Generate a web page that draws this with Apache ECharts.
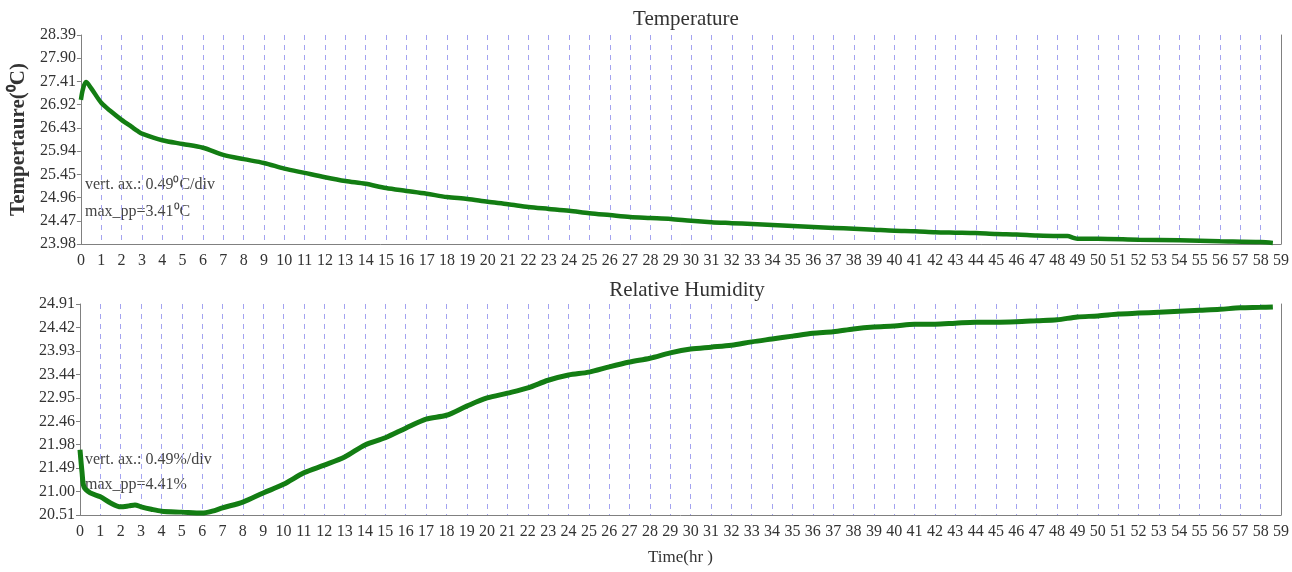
<!DOCTYPE html>
<html>
<head>
<meta charset="utf-8">
<script src="https://cdn.jsdelivr.net/npm/echarts@6/dist/echarts.min.js"></script>
<style>
  html, body { margin: 0; padding: 0; background: #fff; }
  #chart { width: 1292px; height: 572px; }
</style>
</head>
<body>
<div id="chart"></div>
<script>
// temperature (deg C) vs time (hr)
const tempTime = [0, 0.1, 0.25, 0.5, 1, 1.5, 2, 2.5, 2.8, 3, 4, 5, 6, 7, 8, 9, 10,
  11, 12, 13, 14, 15, 16, 17, 18, 19, 20, 21, 22, 23, 24, 25, 26, 27, 28, 29, 30,
  31, 32, 33, 34, 35, 36, 37, 38, 39, 40, 41, 42, 43, 44, 45, 46, 47, 48, 48.5,
  48.8, 49, 50, 52, 54, 56, 58, 58.6]
const tempVals = [27.02, 27.25, 27.40, 27.27, 26.96, 26.77, 26.60, 26.45, 26.36, 26.31, 26.17, 26.09, 26.01, 25.86, 25.77, 25.69, 25.57,
  25.48, 25.39, 25.31, 25.25, 25.16, 25.10, 25.04, 24.97, 24.93, 24.87, 24.82, 24.76, 24.72, 24.68, 24.63, 24.59, 24.55, 24.53, 24.51, 24.47,
  24.44, 24.42, 24.40, 24.38, 24.36, 24.34, 24.32, 24.30, 24.28, 24.26, 24.25, 24.23, 24.22, 24.21, 24.19, 24.18, 24.16, 24.15, 24.15,
  24.11, 24.09, 24.09, 24.07, 24.06, 24.04, 24.02, 24.00]

// relative humidity (%) vs time (hr)
const humTime = [0, 0.1, 0.2, 0.5, 1, 1.5, 2, 2.4, 2.7, 3, 3.5, 4, 5, 6, 6.5, 7, 8, 9, 10,
  11, 12, 13, 14, 15, 16, 17, 18, 19, 20, 21, 22, 23, 24, 25, 26, 27, 28, 29, 30,
  31, 32, 33, 34, 35, 36, 37, 38, 39, 40, 41, 42, 43, 44, 45, 46, 47, 48, 49, 50,
  51, 52, 53, 54, 55, 56, 57, 58, 58.6]
const humVals = [21.87, 21.40, 21.09, 20.97, 20.89, 20.76, 20.68, 20.70, 20.72, 20.68, 20.63, 20.59, 20.57, 20.55, 20.59, 20.66, 20.78, 20.97, 21.15,
  21.39, 21.55, 21.72, 21.97, 22.12, 22.32, 22.51, 22.59, 22.78, 22.95, 23.05, 23.16, 23.32, 23.43, 23.49, 23.60, 23.70, 23.78, 23.89, 23.97,
  24.01, 24.05, 24.12, 24.18, 24.24, 24.30, 24.33, 24.39, 24.43, 24.45, 24.49, 24.49, 24.51, 24.53, 24.53, 24.54, 24.56, 24.58, 24.64, 24.66,
  24.70, 24.72, 24.74, 24.76, 24.78, 24.80, 24.83, 24.84, 24.85]

const tempTicks = [23.98, 24.47, 24.96, 25.45, 25.94, 26.43, 26.92, 27.41, 27.90, 28.39]
const humTicks = [20.51, 21.00, 21.49, 21.98, 22.46, 22.95, 23.44, 23.93, 24.42, 24.91]

const FONT = 'Liberation Serif'
const lineColor = '#137d13'
const gridLine = { color: '#a3a3f0', type: [5, 5], width: 1 }
const axisGray = { color: '#808080', width: 1 }

function zip(xs, ys) {
  return xs.map((x, i) => [x, ys[i]])
}

function xAxisCfg(idx, withName) {
  return {
    gridIndex: idx,
    type: 'value',
    min: 0,
    max: 59,
    interval: 1,
    axisLine: { show: true, onZero: false, lineStyle: axisGray },
    axisTick: { show: false },
    axisLabel: { fontFamily: FONT, fontSize: 16, color: '#333', margin: 9, showMinLabel: true, showMaxLabel: true },
    splitLine: { show: true, lineStyle: gridLine },
    name: withName ? 'Time(hr )' : '',
    nameLocation: 'middle',
    nameGap: 34,
    nameTextStyle: { fontFamily: FONT, fontSize: 17, color: '#333' }
  }
}

function yAxisCfg(idx, min, max, ticks, name) {
  return {
    gridIndex: idx,
    type: 'value',
    min: min,
    max: max,
    axisLine: { show: true, lineStyle: axisGray },
    axisTick: { show: true, customValues: ticks, length: 4, lineStyle: axisGray },
    axisLabel: {
      customValues: ticks,
      formatter: v => v.toFixed(2),
      fontFamily: FONT, fontSize: 16, color: '#333', margin: 5
    },
    splitLine: { show: false },
    name: name,
    nameLocation: 'middle',
    nameRotate: 90,
    nameGap: 42,
    nameTextStyle: { fontFamily: FONT, fontSize: 21, fontWeight: 'bold', color: '#333' }
  }
}

function rightEdge(idx, min, max) {
  return {
    gridIndex: idx, type: 'value', position: 'right', min: min, max: max,
    axisLine: { show: true, lineStyle: axisGray },
    axisTick: { show: false }, axisLabel: { show: false }, splitLine: { show: false }
  }
}

const chart = echarts.init(document.getElementById('chart'))
chart.setOption({
  backgroundColor: '#fff',
  animation: false,
  title: [
    { text: 'Temperature', left: 681, top: 4, textAlign: 'center',
      textStyle: { fontFamily: FONT, fontSize: 21, fontWeight: 'normal', color: '#333' } },
    { text: 'Relative Humidity', left: 682, top: 275, textAlign: 'center',
      textStyle: { fontFamily: FONT, fontSize: 21, fontWeight: 'normal', color: '#333' } }
  ],
  grid: [
    { left: 80, right: 11, top: 35, height: 209 },
    { left: 80, right: 11, top: 304, height: 211 }
  ],
  xAxis: [xAxisCfg(0, false), xAxisCfg(1, true)],
  yAxis: [
    yAxisCfg(0, 23.98, 28.39, tempTicks, 'Tempertaure(\u2070C)'),
    yAxisCfg(1, 20.51, 24.91, humTicks, ''),
    rightEdge(0, 23.98, 28.39),
    rightEdge(1, 20.51, 24.91)
  ],
  graphic: [
    { type: 'text', left: 85, top: 177, style: { text: 'vert. ax.: 0.49\u2070C/div', font: '16px "Liberation Serif"', fill: '#444' } },
    { type: 'text', left: 85, top: 204, style: { text: 'max_pp=3.41\u2070C', font: '16px "Liberation Serif"', fill: '#444' } },
    { type: 'text', left: 85, top: 452, style: { text: 'vert. ax.: 0.49%/div', font: '16px "Liberation Serif"', fill: '#444' } },
    { type: 'text', left: 85, top: 477, style: { text: 'max_pp=4.41%', font: '16px "Liberation Serif"', fill: '#444' } }
  ],
  series: [
    {
      name: 'Temperature', type: 'line', xAxisIndex: 0, yAxisIndex: 0,
      data: zip(tempTime, tempVals), showSymbol: false, smooth: 0.3,
      lineStyle: { color: lineColor, width: 4.5 }
    },
    {
      name: 'Relative Humidity', type: 'line', xAxisIndex: 1, yAxisIndex: 1,
      data: zip(humTime, humVals), showSymbol: false, smooth: 0.3,
      lineStyle: { color: lineColor, width: 5 }
    }
  ]
})
</script>
</body>
</html>
